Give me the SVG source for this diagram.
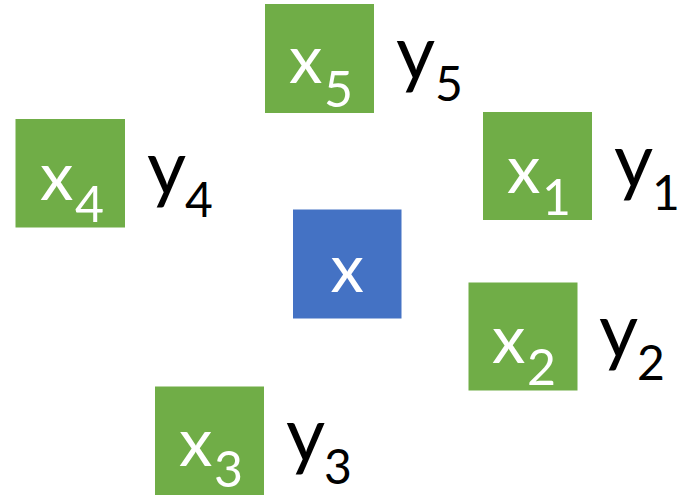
<svg xmlns="http://www.w3.org/2000/svg" width="685" height="495" viewBox="0 0 685 495">
<style>
.g{fill:#70AD47}
.b{fill:#4472C4}
.t{font-family:Lato,"Open Sans",sans-serif}
.w{fill:#fff}
.k{fill:#000}
.xm{font-size:67px}
.xs{font-size:50px}
.ym{font-size:76px}
.ys{font-size:48px}
</style>
<rect width="685" height="495" fill="#fff"/>
<g id="node-x">
<rect class="b" x="293" y="209.5" width="108.5" height="109"/>
<text class="t w xm" x="347.3" y="291.5" text-anchor="middle">x</text>
</g>
<g id="node-x5">
<rect class="g" x="265" y="4" width="109" height="109"/>
<text class="t w"><tspan class="xm" x="289" y="83">x</tspan><tspan class="xs" x="324" y="107">5</tspan></text>
<text class="t k"><tspan class="ym" x="396" y="79">y</tspan><tspan class="ys" x="435" y="101">5</tspan></text>
</g>
<g id="node-x4">
<rect class="g" x="15.5" y="119" width="109.5" height="108.5"/>
<text class="t w"><tspan class="xm" x="40" y="200">x</tspan><tspan class="xs" x="75" y="222">4</tspan></text>
<text class="t k"><tspan class="ym" x="147" y="194">y</tspan><tspan class="ys" x="185" y="217">4</tspan></text>
</g>
<g id="node-x1">
<rect class="g" x="483" y="112" width="109" height="108"/>
<text class="t w"><tspan class="xm" x="507" y="193">x</tspan><tspan class="xs" x="542" y="215">1</tspan></text>
<text class="t k"><tspan class="ym" x="614" y="187">y</tspan><tspan class="ys" x="652" y="210">1</tspan></text>
</g>
<g id="node-x2">
<rect class="g" x="468.5" y="282.5" width="109" height="108"/>
<text class="t w"><tspan class="xm" x="492" y="363">x</tspan><tspan class="xs" x="527" y="385">2</tspan></text>
<text class="t k"><tspan class="ym" x="599" y="357">y</tspan><tspan class="ys" x="637" y="380">2</tspan></text>
</g>
<g id="node-x3">
<rect class="g" x="155" y="386.5" width="109" height="108.5"/>
<text class="t w"><tspan class="xm" x="179" y="466">x</tspan><tspan class="xs" x="214" y="487">3</tspan></text>
<text class="t k"><tspan class="ym" x="286" y="461">y</tspan><tspan class="ys" x="324" y="484">3</tspan></text>
</g>
<g id="connectors"/>
</svg>
